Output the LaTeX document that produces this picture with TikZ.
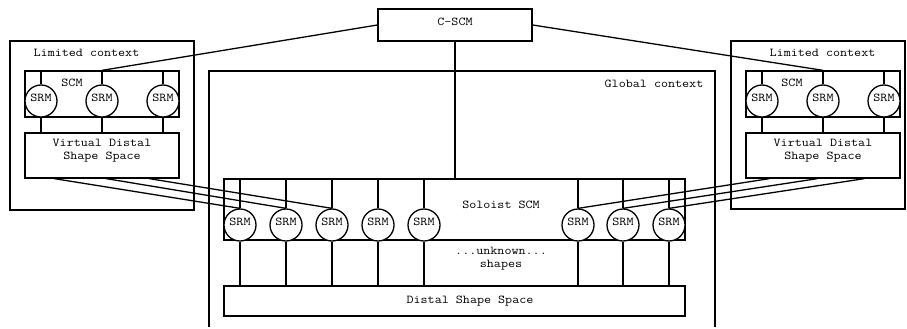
\documentclass[tikz,border=0pt]{standalone}
\usepackage{fontspec}
\setmonofont{Latin Modern Mono}[FakeStretch=1.14]
\begin{document}
\begin{tikzpicture}[x=1pt,y=-1pt,line width=1.3pt,
  box/.style={draw,rectangle,inner sep=0pt},
  txt/.style={font=\ttfamily\fontsize{12}{13}\selectfont,inner sep=0pt,text height=7pt,text depth=0pt},
  srm/.style={draw,circle,fill=white,minimum size=32pt,inner sep=0pt,
    font=\ttfamily\fontsize{12}{13}\selectfont,text height=7pt,text depth=6pt},
  mtxt/.style={font=\ttfamily\fontsize{12}{13}\selectfont,inner sep=0pt,align=center}]
\useasboundingbox (0,0) rectangle (907,329);

% top-level controller
\node[box,minimum width=154pt,minimum height=32pt,
  font=\ttfamily\fontsize{12}{13}\selectfont,text height=7pt,text depth=6pt] (cscm) at (455,25) {C-SCM};

% limited contexts
\node[box,minimum width=184pt,minimum height=169pt] (lctxL) at (102,125.5) {};
\node[box,minimum width=174pt,minimum height=168pt] (lctxR) at (818,125) {};
\node[txt] (ltL) at (86.5,53) {Limited context};
\node[txt] (ltR) at (822.5,53) {Limited context};

% global context (open at the bottom)
\coordinate (gsw) at (209,327);
\coordinate (gne) at (715,71);
\draw (gsw) |- (gne) -- (gne |- gsw);
\node[txt] (gt) at (654,84) {Global context};

% left SCM with its shape space
\node[box,minimum width=154pt,minimum height=46pt] (scmL) at (102,94) {};
\node[txt] (scmLt) at (72,83) {SCM};
\node[box,minimum width=154pt,minimum height=45pt] (vdssL) at (102,155.5) {};
\node[mtxt] (vdssLt) at (102,151) {Virtual Distal\\Shape Space};
\foreach \i/\x in {1/41,2/102,3/163}{
  \node[srm] (srmL\i) at (\x,101) {SRM};
  \draw (srmL\i.north) -- (srmL\i.north |- scmL.north);
  \draw (srmL\i.south) -- (srmL\i.south |- vdssL.north);
}

% right SCM with its shape space
\node[box,minimum width=154pt,minimum height=46pt] (scmR) at (823,94) {};
\node[txt] (scmRt) at (792,83) {SCM};
\node[box,minimum width=154pt,minimum height=45pt] (vdssR) at (823,155.5) {};
\node[mtxt] (vdssRt) at (823,151) {Virtual Distal\\Shape Space};
\foreach \i/\x in {1/762,2/823,3/884}{
  \node[srm] (srmR\i) at (\x,101) {SRM};
  \draw (srmR\i.north) -- (srmR\i.north |- scmR.north);
  \draw (srmR\i.south) -- (srmR\i.south |- vdssR.north);
}

% soloist SCM and the distal shape space
\node[box,minimum width=461pt,minimum height=61pt] (solo) at (454.5,209.5) {};
\node[txt] (solot) at (501,205) {Soloist SCM};
\node[box,minimum width=461pt,minimum height=30pt] (dss) at (454.5,301) {};
\node[txt] (dsst) at (470,300) {Distal Shape Space};
\node[mtxt] (unk) at (501,258.5) {...unknown...\\shapes};
\foreach \i/\x in {1/240,2/286,3/332,4/378,5/424,6/578,7/623,8/669}{
  \node[srm] (srmS\i) at (\x,225) {SRM};
  \draw (srmS\i.north) -- (srmS\i.north |- solo.north);
  \draw (srmS\i.south) -- (srmS\i.south |- dss.north);
}

% controller links
\draw (cscm.west) -- (srmL2.north |- scmL.north);
\draw (cscm.east) -- (srmR2.north |- scmR.north);
\draw (cscm.south) -- (cscm.south |- solo.north);

% virtual shape spaces feeding the soloist
\draw ([xshift=30pt]vdssL.south west) -- (srmS1.north);
\draw ([xshift=82pt]vdssL.south west) -- (srmS2.north);
\draw ([xshift=125pt]vdssL.south west) -- (srmS3.north);
\draw ([xshift=24pt]vdssR.south west) -- (srmS6.north);
\draw ([xshift=72pt]vdssR.south west) -- (srmS7.north);
\draw ([xshift=119pt]vdssR.south west) -- (srmS8.north);
\end{tikzpicture}
\end{document}
